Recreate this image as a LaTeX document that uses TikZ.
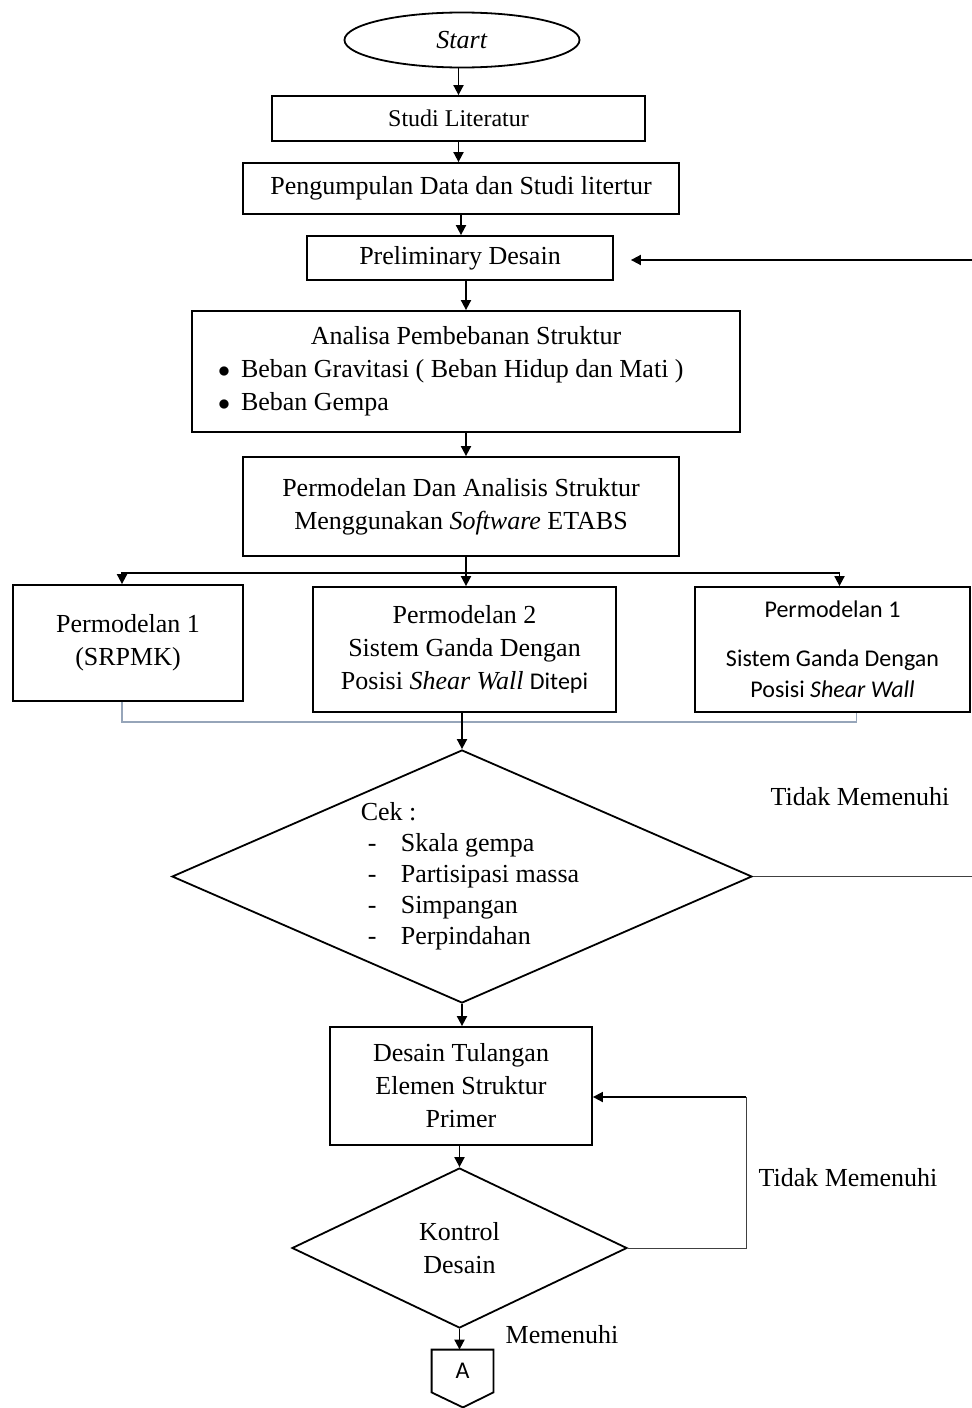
\documentclass[tikz,border=0pt]{standalone}
\usepackage{fontspec}
\setmainfont{Liberation Serif}
\newfontfamily\calibri{Carlito}
\usepackage{xcolor}
\usetikzlibrary{shapes.geometric, arrows.meta}
\definecolor{joinline}{RGB}{150,165,185}

\begin{document}
\begin{tikzpicture}[x=0.5pt, y=-0.5pt,
  box/.style={draw, line width=0.9pt, align=center, inner sep=0pt, font=\fontsize{13}{16.5}\selectfont},
  arr/.style={-{Triangle[length=5pt, width=5pt]}, line width=0.9pt},
  thinln/.style={line width=0.5pt, draw=black!75},
  merge/.style={line width=0.6pt, draw=joinline},
  lbl/.style={font=\fontsize{13}{16}\selectfont, inner sep=0pt}]
  \useasboundingbox (0,0) rectangle (972,1408);
  % Blok proses
  \node[box, ellipse, minimum width=117.5pt, minimum height=27.5pt] (start) at (462,40) {\textit{Start}};
  \node[box, minimum width=186.5pt, minimum height=22.5pt, font=\fontsize{12}{15}\selectfont] (studi) at (458.5,118.5) {Studi Literatur};
  \node[box, minimum width=218pt, minimum height=25.5pt] (data) at (461,188.5) {Pengumpulan Data dan Studi litertur};
  \node[box, minimum width=153pt, minimum height=22pt] (prelim) at (460,258) {Preliminary Desain};
  \node[box, minimum width=274pt, minimum height=60.5pt] (beban) at (466,371.5) {Analisa Pembebanan Struktur\\
    \makebox[248pt][l]{\makebox[11.5pt][l]{$\bullet$}Beban Gravitasi ( Beban Hidup dan Mati )}\\
    \makebox[248pt][l]{\makebox[11.5pt][l]{$\bullet$}Beban Gempa}};
  \node[box, minimum width=218pt, minimum height=49.5pt] (etabs) at (461,506.5) {Permodelan Dan Analisis Struktur\\ Menggunakan \textit{Software} ETABS};
  % Tiga permodelan
  \node[box, minimum width=115pt, minimum height=58pt] (model1) at (128,643) {Permodelan 1\\ (SRPMK)};
  \node[box, minimum width=151.5pt, minimum height=62.5pt] (model2) at (464.5,649.5) {Permodelan 2\\ Sistem Ganda Dengan\\ Posisi \textit{Shear Wall} {\calibri\fontsize{12}{16.5}\selectfont Ditepi}};
  \node[box, minimum width=137.5pt, minimum height=62.5pt, font=\calibri\fontsize{12}{15.5}\selectfont] (model3) at (832.5,649.5) {Permodelan 1\\[9pt] Sistem Ganda Dengan\\ Posisi \textit{Shear Wall}};
  % Pengecekan
  \node[box, diamond, aspect=2.29, minimum width=290pt, minimum height=126.5pt, align=left, font=\fontsize{13}{15.5}\selectfont] (cek) at (462,876.5) {\hspace{8pt}Cek :\\
    \hspace{8pt}\makebox[20pt][l]{\hspace{3.5pt}-}Skala gempa\\
    \hspace{8pt}\makebox[20pt][l]{\hspace{3.5pt}-}Partisipasi massa\\
    \hspace{8pt}\makebox[20pt][l]{\hspace{3.5pt}-}Simpangan\\
    \hspace{8pt}\makebox[20pt][l]{\hspace{3.5pt}-}Perpindahan};
  \node[box, minimum width=131pt, minimum height=59pt] (desain) at (461,1086) {Desain Tulangan\\ Elemen Struktur\\ Primer};
  \node[box, diamond, aspect=2.09, minimum width=167.5pt, minimum height=80pt] (kontrol) at (459.5,1248) {Kontrol\\ Desain};
  % Penghubung halaman
  \node[minimum width=30.5pt, minimum height=21pt, inner sep=0pt, font=\calibri\fontsize{12}{14}\selectfont] (hal) at (462.5,1371) {A};
  \draw[line width=0.9pt] (hal.north west) -- (hal.north east) -- (hal.south east) -- ++(-30.5,15) -- (hal.south west) -- cycle;
  % Keterangan
  \node[lbl] (tm1) at (860,797) {Tidak Memenuhi};
  \node[lbl] (tm2) at (848,1178) {Tidak Memenuhi};
  \node[lbl] (ok) at (562,1335) {Memenuhi};
  \coordinate (split) at (466,573);
  \coordinate (join) at (459,722);
  \coordinate (backin) at (972,260);
  \coordinate (backout) at (972,878);
  \coordinate (loop) at (746,1097);
  % Alur utama
  \draw[arr] (studi.north |- start.south) -- (studi.north);
  \draw[arr] (studi.south) -- (studi.south |- data.north);
  \draw[arr] (data.south) -- (data.south |- prelim.north);
  \draw[arr] (prelim.south -| beban.north) -- (beban.north);
  \draw[arr] (beban.south) -- (beban.south |- etabs.north);
  % Percabangan
  \draw[line width=0.9pt] (etabs.south -| split) -- (split);
  \draw[arr] (split) -| ([xshift=-3pt]model1.north);
  \draw[arr] (split) -- (split |- model2.north);
  \draw[arr] (split) -| ([xshift=3.5pt]model3.north);
  \draw[merge] ([xshift=-3pt]model1.south) |- (join) -| ([xshift=12pt]model3.south);
  \draw[arr] (model2.south -| cek.north) -- (cek.north);
  % Kembali ke preliminary
  \draw[thinln] (cek.east) -- (cek.east -| backout);
  \draw[arr, shorten >=8.5pt] (backin) -- (backin -| prelim.east);
  % Desain dan kontrol
  \draw[arr] (cek.south) -- (cek.south |- desain.north);
  \draw[arr] (desain.south -| kontrol.north) -- (kontrol.north);
  \draw[thinln] (kontrol.east) -| (loop);
  \draw[arr] (loop) -- (loop -| desain.east);
  \draw[arr] (kontrol.south) -- (kontrol.south |- hal.north);
\end{tikzpicture}
\end{document}
